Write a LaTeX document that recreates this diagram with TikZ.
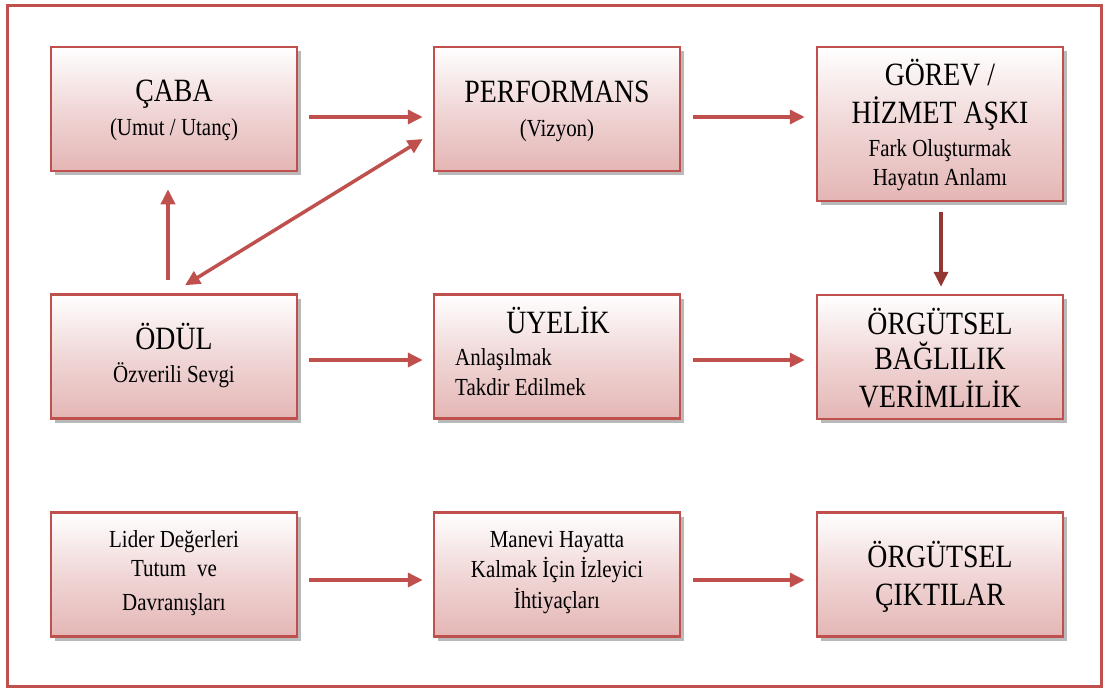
\documentclass[tikz,border=0pt]{standalone}
\usepackage{fontspec}
\setmainfont{Liberation Serif}
\newfontfamily\cnd[FakeStretch=0.855]{Liberation Serif}
\usetikzlibrary{arrows.meta,shadows}
\definecolor{boxred}{HTML}{C0504D}
\definecolor{boxpink}{HTML}{E4B6B5}
\definecolor{darkred}{HTML}{943634}
\begin{document}
\begin{tikzpicture}[x=1pt,y=-1pt,
  box/.style={draw=boxred, line width=2.5pt, top color=white, bottom color=boxpink,
    middle color=boxpink!55!white,
    minimum width=246pt, minimum height=124pt, inner sep=0pt,
    drop shadow={shadow xshift=3.5pt, shadow yshift=-4pt, fill=black!50, opacity=0.55}},
  big/.style={font=\cnd\fontsize{32.5}{34}\selectfont, anchor=base, inner sep=0pt},
  sml/.style={font=\cnd\fontsize{24.5}{26}\selectfont, anchor=base, inner sep=0pt},
  conn/.style={draw=boxred, line width=3.5pt, -{Triangle[length=15pt,width=14pt]}},
  dconn/.style={draw=darkred, line width=3.5pt, -{Triangle[length=15pt,width=14pt]}}]
\useasboundingbox (0,0) rectangle (1105,691);
\fill[white] (0,0) rectangle (1105,691);
\draw[boxred, line width=3pt] (7,5) rectangle (1101,686);

% boxes
\node[box] (caba) at (174,109) {};
\node[box] (perf) at (557,109) {};
\node[box, minimum height=154pt] (gorev) at (940,124) {};
\node[box] (odul) at (174,356.5) {};
\node[box] (uye) at (557,356.5) {};
\node[box] (bag) at (940,357) {};
\node[box] (lider) at (174,574.5) {};
\node[box] (manevi) at (557,574.5) {};
\node[box] (cikti) at (940,574.5) {};

% texts
\node[big] (caba1) at (174,101) {ÇABA};
\node[sml] (caba2) at (174,135) {(Umut / Utanç)};
\node[big] (perf1) at (557,102) {PERFORMANS};
\node[sml] (perf2) at (557,136) {(Vizyon)};
\node[big] (gor1) at (940,85) {GÖREV /};
\node[big] (gor2) at (940,123) {HİZMET AŞKI};
\node[sml] (gor3) at (940,156) {Fark Oluşturmak};
\node[sml] (gor4) at (940,185) {Hayatın Anlamı};
\node[big] (odul1) at (174,349) {ÖDÜL};
\node[sml] (odul2) at (174,382) {Özverili Sevgi};
\node[big] (uye1) at (558,333) {ÜYELİK};
\node[sml, anchor=base west] (uye2) at (455,365) {Anlaşılmak};
\node[sml, anchor=base west] (uye3) at (455,395) {Takdir Edilmek};
\node[big] (bag1) at (940,334) {ÖRGÜTSEL};
\node[big] (bag2) at (940,369) {BAĞLILIK};
\node[big] (bag3) at (940,407) {VERİMLİLİK};
\node[sml] (lid1) at (174,547) {Lider Değerleri};
\node[sml] (lid2) at (174,576) {Tutum\hspace{0.45em}ve};
\node[sml] (lid3) at (174,610) {Davranışları};
\node[sml] (man1) at (557,547) {Manevi Hayatta};
\node[sml] (man2) at (557,577) {Kalmak İçin İzleyici};
\node[sml] (man3) at (557,608) {İhtiyaçları};
\node[big] (cik1) at (940,567) {ÖRGÜTSEL};
\node[big] (cik2) at (940,605) {ÇIKTILAR};

% connectors
\draw[conn, shorten <=11pt, shorten >=10pt] ([yshift=-8pt]caba.east) -- ([yshift=-8pt]perf.west);
\draw[conn, shorten <=12pt, shorten >=11pt] ([yshift=-8pt]perf.east) -- ([yshift=-8pt]gorev.west |- perf.east);
\draw[conn, shorten <=11pt, shorten >=10pt] ([yshift=-3.5pt]odul.east) -- ([yshift=-3.5pt]uye.west);
\draw[conn, shorten <=12pt, shorten >=11pt] ([yshift=-3.5pt]uye.east) -- ([yshift=-3.5pt]bag.west |- uye.east);
\draw[conn, shorten <=11pt, shorten >=10pt] ([yshift=-5.5pt]lider.east) -- ([yshift=-5.5pt]manevi.west);
\draw[conn, shorten <=12pt, shorten >=11pt] ([yshift=-5.5pt]manevi.east) -- ([yshift=-5.5pt]cikti.west);
\draw[conn, shorten <=13pt, shorten >=17pt] ([xshift=-6pt]odul.north) -- ([xshift=-6pt]caba.south);
\draw[conn, {Triangle[length=15pt,width=14pt]}-{Triangle[length=15pt,width=14pt]}]
  ([shift={(11,-8)}]odul.north) -- ([shift={(-10,30)}]perf.west);
\draw[dconn, shorten <=10pt, shorten >=7pt] ([xshift=1pt]gorev.south) -- ([xshift=1pt]bag.north);
\end{tikzpicture}
\end{document}
